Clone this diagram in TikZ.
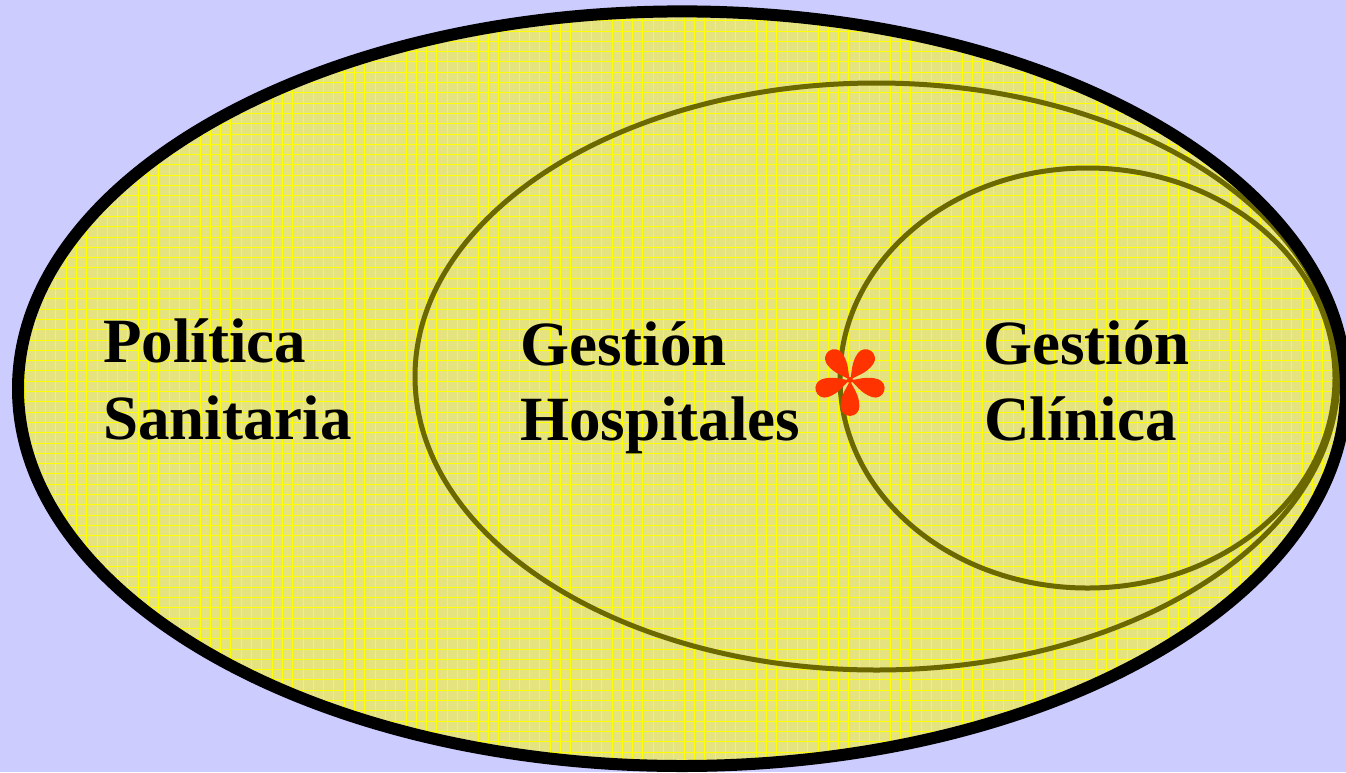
\documentclass[tikz,border=0pt]{standalone}
\usepackage{fontspec}
\setmainfont{Liberation Serif}
\definecolor{bgc}{HTML}{CCCCFF}
\definecolor{fillY}{RGB}{229,226,128}
\definecolor{gridY}{HTML}{FFFF00}
\definecolor{olivec}{RGB}{108,104,0}
\definecolor{astred}{HTML}{FF3300}
\tikzset{
  label/.style={anchor=base west, inner sep=0pt, font=\bfseries\fontsize{63}{76}\selectfont, text=black},
  ring/.style={draw=olivec, line width=5pt},
  gridline/.style={draw=gridY, line width=1pt},
}
\begin{document}
\begin{tikzpicture}[x=1pt,y=-1pt]
\fill[bgc] (0,0) rectangle (1346,772);
\useasboundingbox (0,0) rectangle (1346,772);
% yellow gridded field
\begin{scope}
  \clip (682,388.7) ellipse [x radius=664pt, y radius=377.3pt];
  \fill[fillY] (0,0) rectangle (1346,772);
  \foreach \i in {0,...,131} \draw[gridline] ({4.3+10.3*\i},0) -- ++(0,772);
  \foreach \j in {0,...,75} \draw[gridline] (0,{0.1+10.3*\j}) -- ++(1346,0);
\end{scope}
% inner rings
\draw[ring] (876.5,376.5) ellipse [x radius=461.5pt, y radius=293.5pt];
\draw[ring] (1087.5,378) ellipse [x radius=247.5pt, y radius=210pt];
% outer ring
\draw[black, line width=12pt] (682,388.7) ellipse [x radius=664pt, y radius=377.3pt];
% labels
\node[label] (pol1) at (103,362.7) {Política};
\node[label] (pol2) at (103,439) {Sanitaria};
\node[label] (hos1) at (520,365) {Gestión};
\node[label] (hos2) at (520,440.7) {Hospitales};
\node[label] (cli1) at (983,364) {Gestión};
\node[label] (cli2) at (984,440) {Clínica};
% asterisk
\coordinate (ast) at (850,380);
\begin{scope}[shift={(ast)}, yscale=-1]
  \foreach \a in {18,90,162,234,306}
    \fill[astred, rotate=\a] (0,0) .. controls (7,-2.2) and (14,-9.4) .. (26.5,-9.4)
      arc[start angle=-90, end angle=90, radius=9.4] .. controls (14,9.4) and (7,2.2) .. (0,0);
  \fill[astred] (0,0) circle[radius=3];
\end{scope}
\end{tikzpicture}
\end{document}
